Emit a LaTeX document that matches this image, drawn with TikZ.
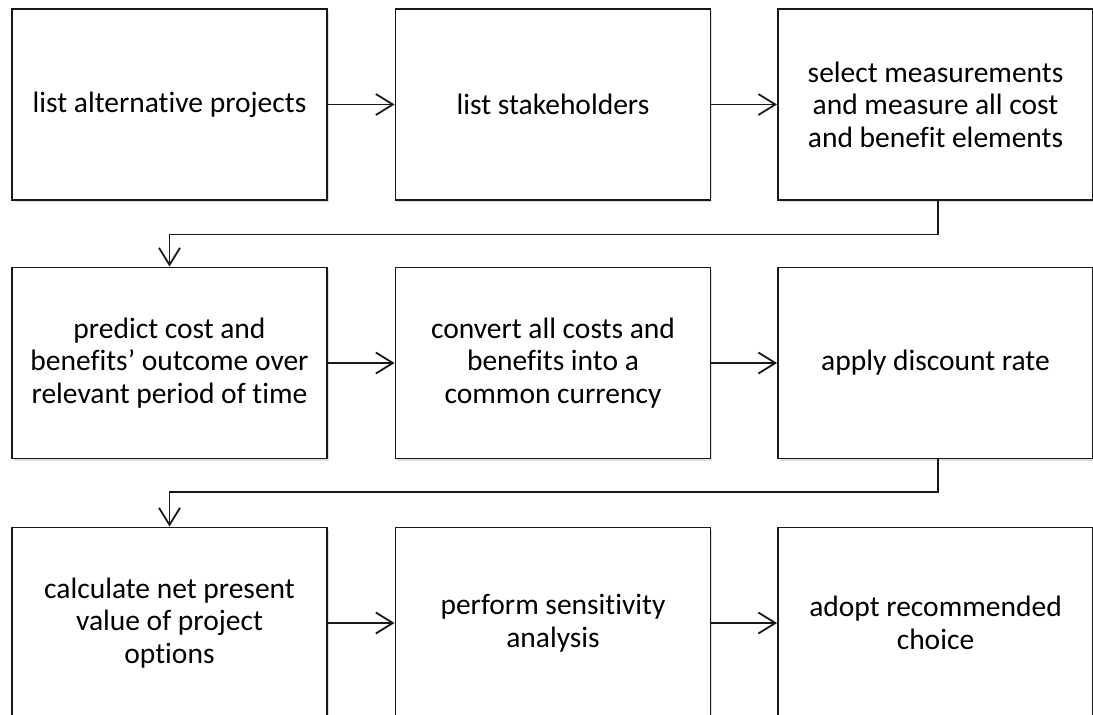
\documentclass[tikz,border=0pt]{standalone}
\usepackage{fontspec}
\setmainfont[Ligatures=ResetAll,RawFeature=-liga]{Carlito}
\usetikzlibrary{arrows.meta,shadows}
\begin{document}
\begin{tikzpicture}[x=1pt,y=-1pt,
  stepbox/.style={draw=black!90, line width=1.9pt, fill=white,
    minimum width=315pt, minimum height=191pt, inner sep=0pt,
    align=center, font=\fontsize{29.5}{32.5}\selectfont,
    drop shadow={opacity=0.25, shadow xshift=1.5pt, shadow yshift=-2pt}},
  flow/.style={line width=1.8pt, black!90,
    -{Straight Barb[length=17pt, width=21pt, line width=1.8pt]}}]
\useasboundingbox (0,0) rectangle (1093,715);
\clip (0,0) rectangle (1093,715);
\fill[white] (0,0) rectangle (1093,715);

% row 1
\node[stepbox] (a1) at (169.5,104.5) {list alternative projects};
\node[stepbox] (a2) at (553,104.5) {list stakeholders};
\node[stepbox] (a3) at (935.5,104.5) {select measurements\\and measure all cost\\and benefit elements};
% row 2
\node[stepbox] (b1) at (169.5,363) {predict cost and\\benefits' outcome over\\relevant period of time};
\node[stepbox] (b2) at (553,363) {convert all costs and\\benefits into a\\common currency};
\node[stepbox] (b3) at (935.5,363) {apply discount rate};
% row 3
\node[stepbox] (c1) at (169.5,623) {calculate net present\\value of project\\options};
\node[stepbox] (c2) at (553,623) {perform sensitivity\\analysis};
\node[stepbox] (c3) at (935.5,623) {adopt recommended\\choice};

% connectors within rows
\draw[flow] (a1) -- (a2);
\draw[flow] (a2) -- (a3);
\draw[flow] (b1) -- (b2);
\draw[flow] (b2) -- (b3);
\draw[flow] (c1) -- (c2);
\draw[flow] (c2) -- (c3);

% connectors between rows
\coordinate (t1) at (938,234.5);
\coordinate (t2) at (938,492);
\draw[flow] (a3.south -| t1) -- (t1) -| (b1.north);
\draw[flow] (b3.south -| t2) -- (t2) -| (c1.north);
\end{tikzpicture}
\end{document}
